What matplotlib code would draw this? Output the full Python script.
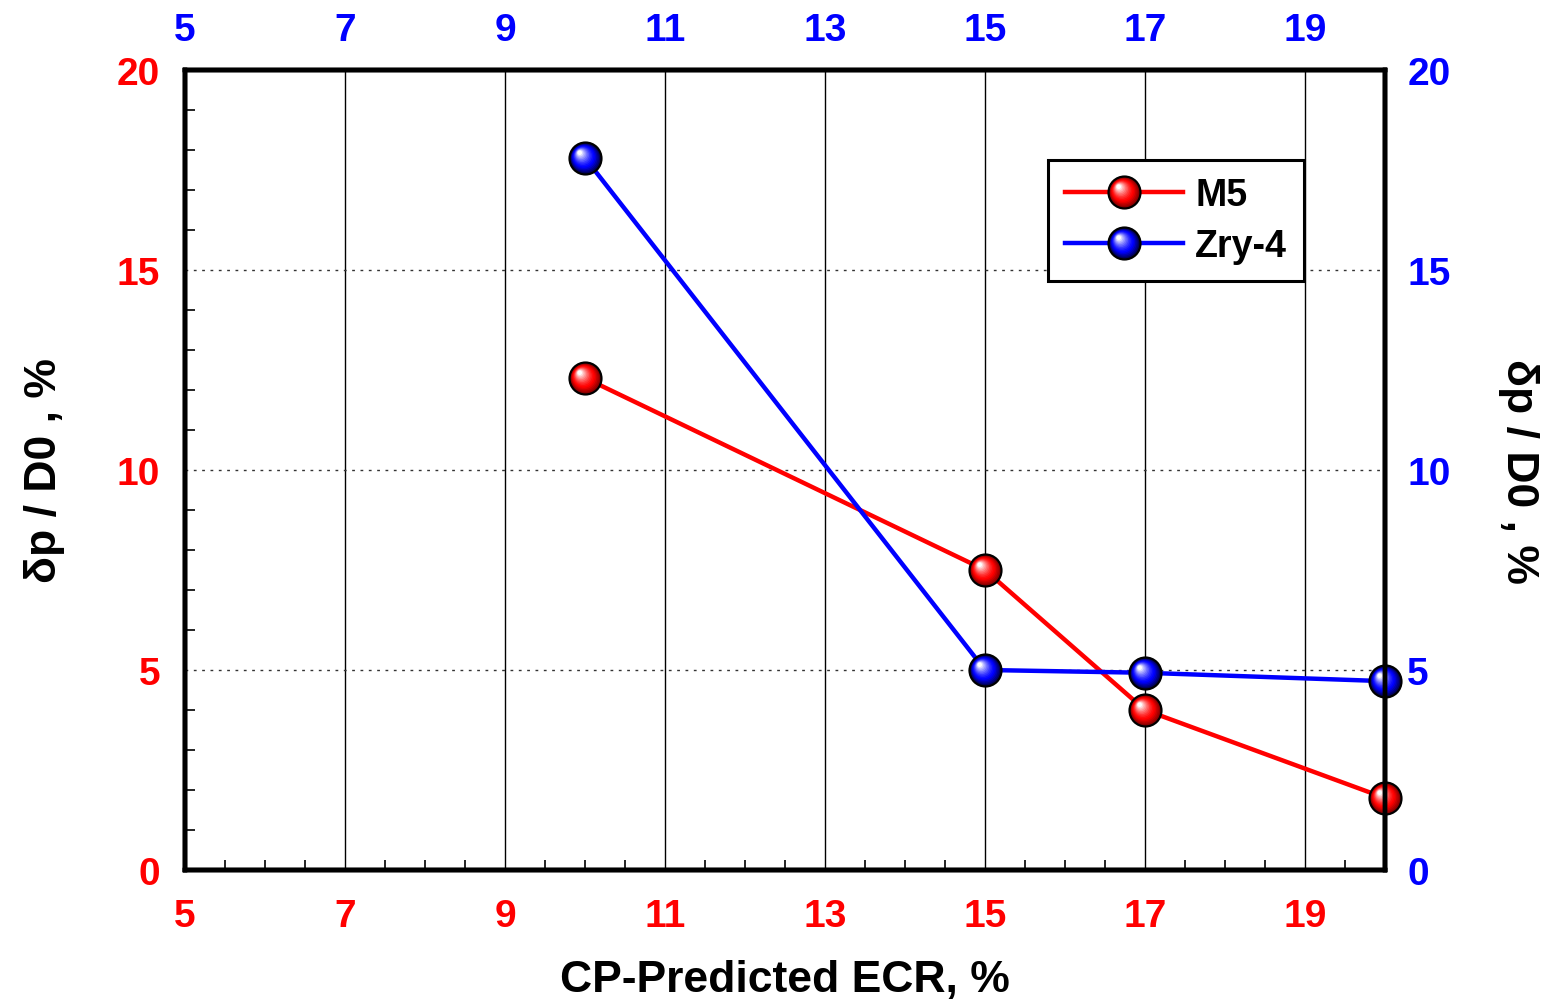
import matplotlib
matplotlib.use("Agg")
import matplotlib.pyplot as plt
import numpy as np
from matplotlib.path import Path
from matplotlib.ticker import MultipleLocator
from matplotlib.legend_handler import HandlerTuple
from matplotlib.colors import to_rgb

plt.rcParams['font.family'] = ['Liberation Sans', 'DejaVu Sans']
plt.rcParams['font.weight'] = 'bold'

# CP-predicted ECR (%) and ductility delta_p / D0 (%)
m5_ecr = [10, 15, 17, 20]
m5_val = [12.3, 7.5, 4.0, 1.8]
zry_ecr = [10, 15, 17, 20]
zry_val = [17.8, 5.0, 4.93, 4.72]

x_ticks = [5, 7, 9, 11, 13, 15, 17, 19]
y_ticks = [0, 5, 10, 15, 20]

TICK_FS = 28
LABEL_FS = 32

fig = plt.figure(figsize=[15.63, 10.04], dpi=100)
ax = fig.add_axes([0.1184, 0.1325, 0.7677, 0.7968])

ax.set_xlim(5, 20)
ax.set_ylim(0, 20)
ax.set_xticks(x_ticks)
ax.set_yticks(y_ticks)
ax.xaxis.set_minor_locator(MultipleLocator(0.5))
ax.yaxis.set_minor_locator(MultipleLocator(1))
ax.tick_params(axis='both', which='major', length=0, labelsize=TICK_FS, colors='red')
ax.tick_params(axis='x', which='major', pad=20)
ax.tick_params(axis='y', which='major', pad=18)
ax.tick_params(axis='both', which='minor', direction='in', length=7, width=1.2, color='black')
for lab in ax.get_xticklabels() + ax.get_yticklabels():
    lab.set_fontweight('bold')

# grid: solid verticals, dotted horizontals
for xv in x_ticks[1:]:
    ax.axvline(xv, color='black', lw=1.0, zorder=1)
for yv in y_ticks[1:-1]:
    ax.axhline(yv, color='#333333', lw=1.0, ls=(0, (2, 4)), zorder=1)

for sp in ax.spines.values():
    sp.set_linewidth(3.2)
    sp.set_zorder(3)

ax.set_xlabel('CP-Predicted ECR, %', fontsize=LABEL_FS, fontweight='bold', labelpad=18)
ax.set_ylabel('δp / D0 , %', fontsize=LABEL_FS, fontweight='bold', labelpad=37)

# secondary axes (top / right) in blue
axr = ax.twinx()
axr.set_ylim(0, 20)
axr.set_yticks(y_ticks)
axr.tick_params(axis='y', length=0, labelsize=TICK_FS, colors='blue', pad=16)
for lab in axr.get_yticklabels():
    lab.set_fontweight('bold')
axr.set_ylabel('δp / D0 , %', fontsize=LABEL_FS, fontweight='bold', rotation=270, labelpad=64)

axt = ax.twiny()
axt.set_xlim(5, 20)
axt.set_xticks(x_ticks)
axt.tick_params(axis='x', length=0, labelsize=TICK_FS, colors='blue', pad=16)
for lab in axt.get_xticklabels():
    lab.set_fontweight('bold')
for a in (axr, axt):
    for sp in a.spines.values():
        sp.set_linewidth(3.2)


def mix(c1, c2, t):
    a = np.array(to_rgb(c1))
    b = np.array(to_rgb(c2))
    return tuple(a + (b - a) * t)


def sphere(axis, x, y, base, dark, ms=23):
    # shaded ball marker built from stacked offset circles
    handles = []
    line, = axis.plot(x, y, color=base, lw=3.2, marker='o', ms=ms,
                      mfc=dark, mec='black', mew=1.6, clip_on=False, zorder=5)
    handles.append(line)
    n = 14
    for k in range(1, n):
        t = k / (n - 1)
        r = 0.94 - 0.8 * t
        cx, cy = -0.36 * t, 0.36 * t
        if t < 0.3:
            col = mix(dark, base, t / 0.3)
        else:
            col = mix(base, 'white', ((t - 0.3) / 0.7) ** 1.4)
        p = Path.circle((cx, cy), r)
        m = np.max(np.abs(p.vertices))
        h, = axis.plot(x, y, ls='none', marker=p, ms=ms * m, mfc=col,
                       mec='none', mew=0, clip_on=False, zorder=5 + k * 0.01)
        handles.append(h)
    return tuple(handles)


h_m5 = sphere(ax, m5_ecr, m5_val, '#ff0000', '#8a0000')
h_zry = sphere(ax, zry_ecr, zry_val, '#0000ff', '#00005a')

leg = axt.legend([h_m5, h_zry], ['M5', 'Zry-4'],
                 handler_map={tuple: HandlerTuple(ndivide=1, pad=0)},
                 loc='upper left', bbox_to_anchor=(0.719, 0.887),
                 prop={'weight': 'bold', 'size': 27},
                 frameon=True, fancybox=False, edgecolor='black', framealpha=1,
                 handlelength=3.15, handletextpad=0.33, borderpad=0.45,
                 labelspacing=0.4, borderaxespad=0)
leg.get_frame().set_linewidth(2.2)
leg.set_zorder(10)

fig.savefig('out.png', dpi=100)
